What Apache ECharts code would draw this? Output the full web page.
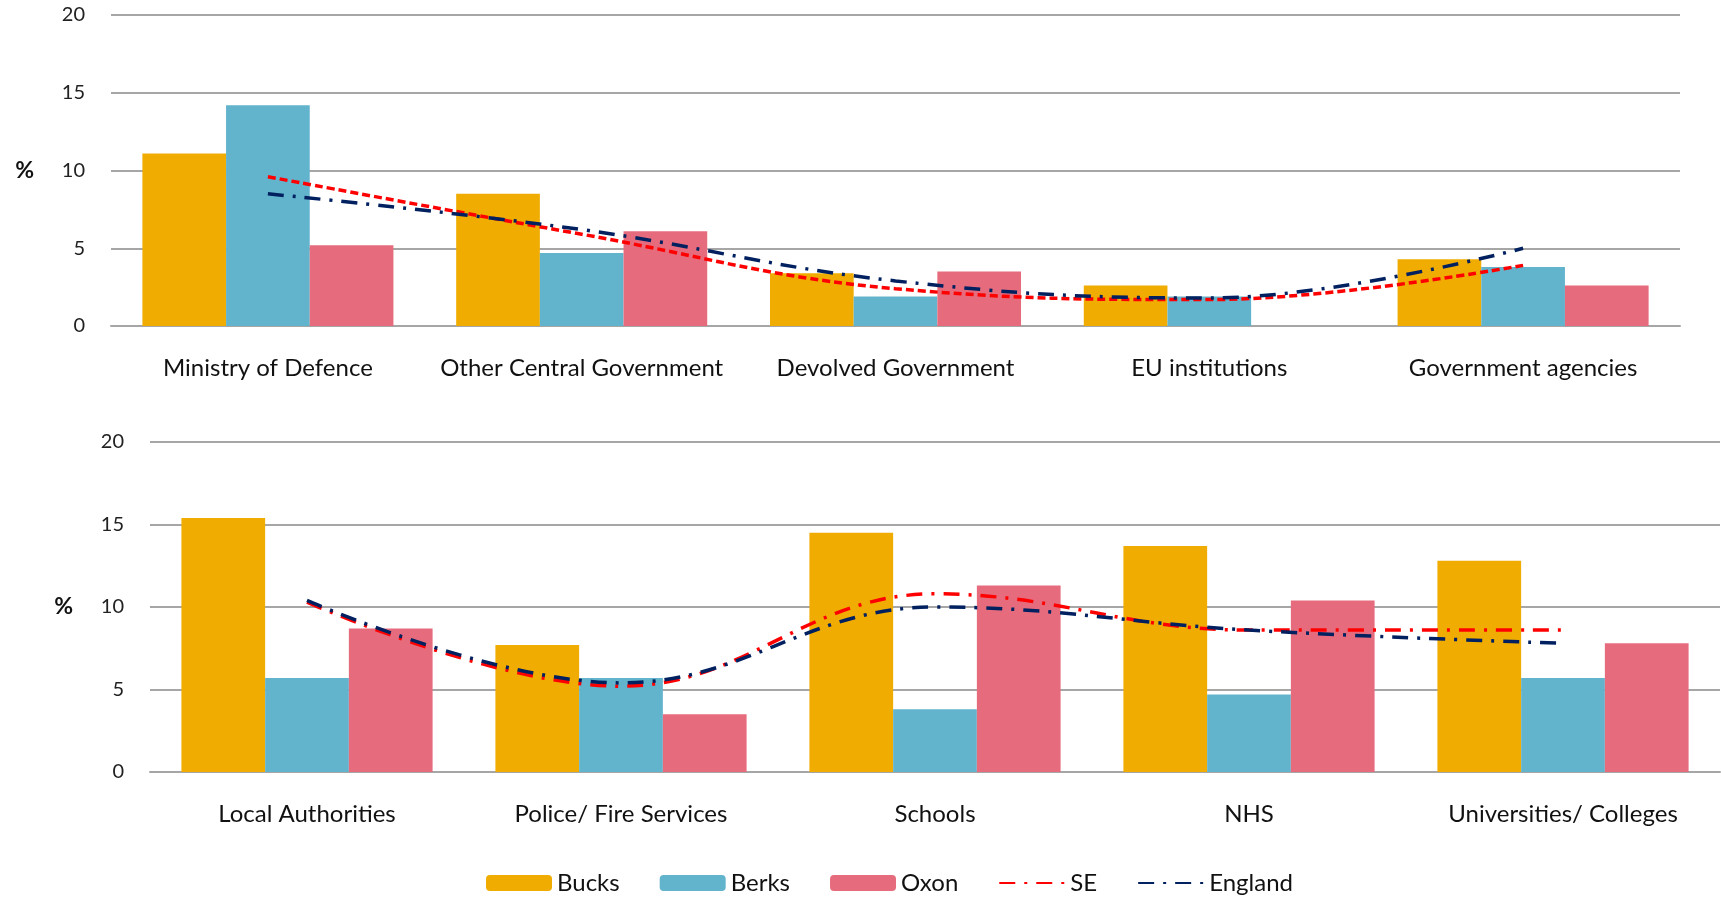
<!DOCTYPE html>
<html>
<head>
<meta charset="utf-8">
<title>Public sector employment</title>
<script src="https://cdn.jsdelivr.net/npm/echarts@6/dist/echarts.min.js"></script>
<style>
  html, body { margin: 0; padding: 0; background: #fff; }
  #chart { width: 1721px; height: 898px; }
</style>
</head>
<body>
<div id="chart"></div>
<script>
// top panel
const topCategories = ['Ministry of Defence', 'Other Central Government', 'Devolved Government', 'EU institutions', 'Government agencies'];
const topBucks = [11.1, 8.5, 3.4, 2.6, 4.3];
const topBerks = [14.2, 4.7, 1.9, 1.9, 3.8];
const topOxon = [5.2, 6.1, 3.5, null, 2.6];
const topSE = [9.6, 5.9, 2.4, 1.7, 3.9];
const topEngland = [8.5, 6.2, 2.9, 1.8, 5.0];

// bottom panel
const bottomCategories = ['Local Authorities', 'Police/ Fire Services', 'Schools', 'NHS', 'Universities/ Colleges'];
const bottomBucks = [15.4, 7.7, 14.5, 13.7, 12.8];
const bottomBerks = [5.7, 5.7, 3.8, 4.7, 5.7];
const bottomOxon = [8.7, 3.5, 11.3, 10.4, 7.8];
const bottomSE = [10.3, 5.2, 10.8, 8.6, 8.6];
const bottomEngland = [10.4, 5.4, 10.0, 8.6, 7.8];

const legendNames = ['Bucks', 'Berks', 'Oxon', 'SE', 'England'];

const colors = {
  Bucks: '#f0ac00',
  Berks: '#62b3cc',
  Oxon: '#e66c7d',
  SE: '#ff0000',
  England: '#002060',
};

const font = 'Lato, "Open Sans", sans-serif';

const splitLine = {
  show: true,
  lineStyle: { color: '#a6a6a6', width: 2 },
};

const xAxisBase = {
  type: 'category',
  axisTick: { show: false },
  axisLine: { show: true, lineStyle: { color: '#a6a6a6', width: 2 } },
  axisLabel: { color: '#111', fontSize: 24, fontFamily: font, margin: 30, interval: 0 },
};

const yAxisBase = {
  type: 'value',
  min: 0,
  max: 20,
  interval: 5,
  axisTick: { show: false },
  axisLine: { show: false },
  splitLine,
  axisLabel: { color: '#222', fontSize: 20, fontFamily: font, margin: 26 },
  name: '%',
  nameLocation: 'middle',
  nameRotate: 0,
  nameGap: 77,
  nameTextStyle: { color: '#111', fontSize: 23, fontWeight: 'bold', fontFamily: font },
};

function bars(name, data, idx) {
  return {
    name,
    type: 'bar',
    xAxisIndex: idx,
    yAxisIndex: idx,
    barGap: 0,
    barCategoryGap: '20%',
    itemStyle: { color: colors[name] },
    data,
  };
}

function line(name, data, idx, dash) {
  return {
    name,
    type: 'line',
    xAxisIndex: idx,
    yAxisIndex: idx,
    smooth: 0.4,
    symbol: 'none',
    lineStyle: { color: colors[name], width: 3.5, type: dash },
    itemStyle: { color: colors[name] },
    data,
  };
}

const option = {
  animation: false,
  textStyle: { fontFamily: font },
  legend: {
    top: 866,
    left: 481,
    itemWidth: 66,
    itemHeight: 16,
    itemGap: 40,
    textStyle: { color: '#111', fontSize: 24, fontFamily: font },
    data: legendNames.map(n => (n === 'SE' || n === 'England'
      ? { name: n, itemStyle: { opacity: 0 } }
      : { name: n })),
  },
  grid: [
    { left: 111, right: 41, top: 15, height: 311 },
    { left: 150, right: 1, top: 442, height: 330 },
  ],
  xAxis: [
    { ...xAxisBase, gridIndex: 0, data: topCategories },
    { ...xAxisBase, gridIndex: 1, data: bottomCategories },
  ],
  yAxis: [
    { ...yAxisBase, gridIndex: 0 },
    { ...yAxisBase, gridIndex: 1 },
  ],
  series: [
    bars('Bucks', topBucks, 0),
    bars('Berks', topBerks, 0),
    bars('Oxon', topOxon, 0),
    bars('Bucks', bottomBucks, 1),
    bars('Berks', bottomBerks, 1),
    bars('Oxon', bottomOxon, 1),
    line('SE', bottomSE, 1, [16, 9, 3, 9]),
    line('England', bottomEngland, 1, [16, 9, 3, 9]),
    line('SE', topSE, 0, [8, 4]),
    line('England', topEngland, 0, [16, 9, 3, 9]),
  ],
};

const chart = echarts.init(document.getElementById('chart'), null, { renderer: 'canvas' });
chart.setOption(option);
</script>
</body>
</html>
